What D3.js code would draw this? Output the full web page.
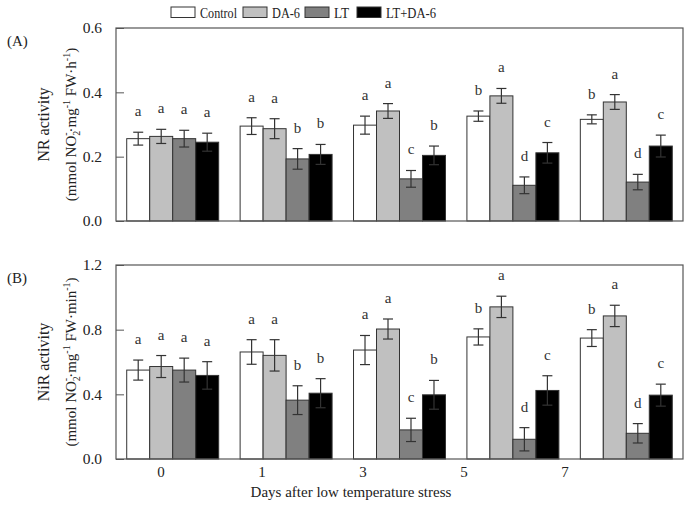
<!DOCTYPE html>
<html><head><meta charset="utf-8">
<script src="https://cdn.jsdelivr.net/npm/d3@7/dist/d3.min.js"></script>
<style>body{margin:0;background:#fff}svg{display:block;font-family:"Liberation Serif","Times New Roman",serif}</style>
</head><body><svg id="c" width="688" height="509"></svg>
<script>
const days = ["0","1","3","5","7"];
const treatments = ["Control","DA-6","LT","LT+DA-6"];
const colors = ["#ffffff","#c0c0c0","#808080","#000000"];
// Panel A: NR activity
const nrMean = [
  [0.256,0.263,0.256,0.245],
  [0.295,0.287,0.193,0.207],
  [0.298,0.342,0.131,0.204],
  [0.326,0.389,0.111,0.212],
  [0.316,0.370,0.121,0.233]];
const nrErr = [
  [0.020,0.022,0.026,0.028],
  [0.026,0.031,0.032,0.031],
  [0.028,0.023,0.026,0.029],
  [0.016,0.023,0.026,0.032],
  [0.014,0.023,0.024,0.034]];
const nrLetters = [["a","a","a","a"],["a","a","b","b"],["a","a","c","b"],["b","a","d","c"],["b","a","d","c"]];
// Panel B: NiR activity
const nirMean = [
  [0.550,0.572,0.550,0.517],
  [0.662,0.641,0.364,0.407],
  [0.674,0.804,0.180,0.397],
  [0.755,0.941,0.122,0.424],
  [0.748,0.885,0.159,0.395]];
const nirErr = [
  [0.062,0.068,0.074,0.085],
  [0.076,0.097,0.089,0.090],
  [0.090,0.062,0.072,0.089],
  [0.050,0.066,0.072,0.091],
  [0.052,0.066,0.060,0.068]];
const nirLetters = nrLetters;
const yTicksA = [0.0,0.2,0.4,0.6];
const yTicksB = [0.0,0.4,0.8,1.2];

const svg = d3.select("#c");
const L = 116, R = 683;
const x0 = d3.scaleBand().domain(days).range([L,R]).paddingInner(0.189).paddingOuter(0.0945);
const x1 = d3.scaleBand().domain(treatments).range([0,x0.bandwidth()]);
const col = d3.scaleOrdinal().domain(treatments).range(colors);

function panel(top,bottom,ymax,ticks,mean,err,letters,tag,name,unitParts){
  const y = d3.scaleLinear().domain([0,ymax]).range([bottom,top]);
  const g = svg.append("g");
  const ax = g.append("g").attr("transform",`translate(${L},0)`)
    .call(d3.axisLeft(y).tickValues(ticks).tickFormat(d3.format(".1f")).tickSizeInner(-8).tickSizeOuter(0).tickPadding(14));
  ax.select(".domain").remove();
  ax.selectAll("line").attr("stroke","#555");
  ax.selectAll("text").attr("font-size",15.5).attr("fill","#222").attr("font-family","Liberation Serif");
  days.forEach((d,i)=>{
    const gg = g.append("g").attr("transform",`translate(${x0(d)},0)`);
    treatments.forEach((t,j)=>{
      const v = mean[i][j], e = err[i][j];
      const bx = x1(t), bw = x1.bandwidth(), cx = bx+bw/2;
      gg.append("rect").attr("x",bx).attr("y",y(v)).attr("width",bw).attr("height",y(0)-y(v))
        .attr("fill",col(t)).attr("stroke","#333").attr("stroke-width",1);
      const ec = "#333";
      gg.append("line").attr("x1",cx).attr("x2",cx).attr("y1",y(v-e)).attr("y2",y(v+e)).attr("stroke",ec).attr("stroke-width",1.2);
      [v-e,v+e].forEach(vv=>gg.append("line").attr("x1",cx-5).attr("x2",cx+5).attr("y1",y(vv)).attr("y2",y(vv)).attr("stroke",ec).attr("stroke-width",1.2));
      gg.append("text").attr("x",cx).attr("y",y(v+e)-16).attr("text-anchor","middle")
        .attr("font-size",15).attr("fill","#333").text(letters[i][j]);
    });
  });
  g.append("rect").attr("x",L).attr("y",top).attr("width",R-L).attr("height",bottom-top)
    .attr("fill","none").attr("stroke","#555").attr("stroke-width",1.2);
  g.append("text").attr("x",7).attr("y",top+18).attr("font-size",15).attr("fill","#222").text(tag);
  const cy = (top+bottom)/2;
  g.append("text").attr("transform",`translate(49,${cy}) rotate(-90)`).attr("text-anchor","middle")
    .attr("font-size",16).attr("fill","#222").text(name);
  const t2 = g.append("text").attr("transform",`translate(76,${cy}) rotate(-90)`).attr("text-anchor","middle")
    .attr("font-size",15).attr("fill","#222");
  unitParts.forEach(p=>{
    const ts = t2.append("tspan").text(p.t);
    if(p.fs) ts.attr("font-size",p.fs);
    if(p.dy) ts.attr("dy",p.dy);
    if(p.dx) ts.attr("dx",p.dx);
  });
}
const unitA = [{t:"(mmol NO"},{t:"2",fs:10,dy:4},{t:"-",fs:10,dx:-5,dy:-11},{t:"·mg",dy:7},{t:"-1",fs:10,dy:-6},{t:" FW·h",dy:6},{t:"-1",fs:10,dy:-6},{t:")",dy:6}];
const unitB = [{t:"(mmol NO"},{t:"2",fs:10,dy:4},{t:"-",fs:10,dx:-5,dy:-11},{t:"·mg",dy:7},{t:"-1",fs:10,dy:-6},{t:" FW·min",dy:6},{t:"-1",fs:10,dy:-6},{t:")",dy:6}];
panel(28,221,0.6,yTicksA,nrMean,nrErr,nrLetters,"(A)","NR activity",unitA);
panel(265,459,1.2,yTicksB,nirMean,nirErr,nirLetters,"(B)","NiR activity",unitB);

const xl = d3.scalePoint().domain(days).range([161,565]);
svg.append("g").selectAll("text").data(days).join("text")
  .attr("x",d=>xl(d)).attr("y",477).attr("text-anchor","middle").attr("font-size",15).attr("fill","#222").text(d=>d);
svg.append("text").attr("x",351).attr("y",497).attr("text-anchor","middle").attr("font-size",15).attr("fill","#222")
  .text("Days after low temperature stress");

const lx = [171,243,305,357];
const lw = [37,28,15,50];
const lg = svg.append("g");
treatments.forEach((t,i)=>{
  lg.append("rect").attr("x",lx[i]).attr("y",7).attr("width",24).attr("height",10.5)
    .attr("fill",col(t)).attr("stroke","#333").attr("stroke-width",1);
  lg.append("text").attr("x",lx[i]+29).attr("y",17.5).attr("font-size",14).attr("fill","#222")
    .attr("textLength",lw[i]).attr("lengthAdjust","spacingAndGlyphs").text(t);
});
</script></body></html>
